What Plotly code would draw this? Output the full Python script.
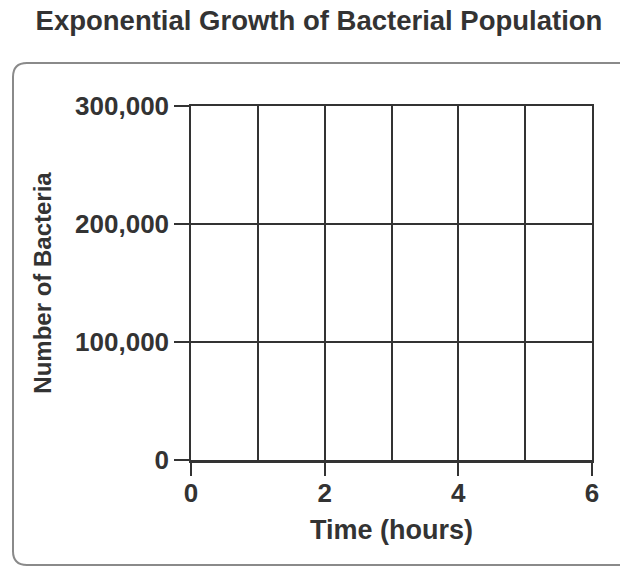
import plotly.graph_objects as go

# ---- data (the reference is an empty grid to be filled in) ----
time_hours = []          # no plotted observations in the reference
bacteria_count = []
x_tick_vals = [0, 2, 4, 6]
x_tick_text = ["0", "2", "4", "6"]
y_tick_vals = [0, 100000, 200000, 300000]
y_tick_text = ["0", "100,000", "200,000", "300,000"]
x_range = [0, 6]
y_range = [0, 300000]

INK = "#333333"
FONT = "Liberation Sans, Arial, Helvetica, sans-serif"

fig = go.Figure()
fig.add_trace(go.Scatter(x=time_hours, y=bacteria_count, mode="lines+markers",
                         line=dict(color=INK), showlegend=False))
# empty trace on the top overlay axis so that it is drawn
fig.add_trace(go.Scatter(x=[], y=[], xaxis="x2", showlegend=False, hoverinfo="skip"))

# rounded frame around the graph (paper coordinates); right side runs off the page
L, R, T, B = -0.4439, 1.25, 1.1215, -0.2966
rx, ry = 0.0349, 0.0395
path = (f"M {L},{T-ry} L {L},{B+ry} Q {L},{B} {L+rx},{B} "
        f"L {R-rx},{B} Q {R},{B} {R},{B+ry} L {R},{T-ry} Q {R},{T} {R-rx},{T} "
        f"L {L+rx},{T} Q {L},{T} {L},{T-ry} Z")
fig.add_shape(type="path", path=path, xref="paper", yref="paper",
              line=dict(color="#8a8a8a", width=2), layer="below")

fig.update_layout(
    width=620, height=568,
    margin=dict(l=191, r=28, t=106, b=108),
    paper_bgcolor="white", plot_bgcolor="white",
    font=dict(family=FONT, color=INK),
    title=dict(text="<b>Exponential Growth of Bacterial Population</b>",
               x=319 / 620, xref="container", xanchor="center",
               y=1 - 20 / 568, yref="container", yanchor="middle",
               font=dict(size=27.5, color=INK, family=FONT)),
    showlegend=False,
)

fig.update_xaxes(
    range=x_range, tickmode="array", tickvals=x_tick_vals, ticktext=x_tick_text,
    ticks="outside", ticklen=13, tickwidth=1.5, tickcolor=INK,
    ticklabelstandoff=-5,
    tickfont=dict(size=26, family=FONT, color=INK, weight="bold"),
    showgrid=True, gridcolor=INK, gridwidth=1.5,
    minor=dict(dtick=1, showgrid=True, gridcolor=INK, gridwidth=1.5, ticks=""),
    showline=True, linecolor=INK, linewidth=3,
    zeroline=False,
    title=dict(text="<b>Time (hours)</b>", font=dict(size=27, family=FONT, color=INK),
               standoff=13),
    fixedrange=True,
)
fig.update_layout(xaxis2=dict(
    range=x_range, overlaying="x", side="top", anchor="y",
    showline=True, linecolor=INK, linewidth=1.5,
    showgrid=False, zeroline=False, showticklabels=False, ticks="",
    fixedrange=True,
))
fig.update_yaxes(
    range=y_range, tickmode="array", tickvals=y_tick_vals, ticktext=y_tick_text,
    ticks="outside", ticklen=15, tickwidth=1.5, tickcolor=INK,
    tickfont=dict(size=26, family=FONT, color=INK, weight="bold"),
    showgrid=True, gridcolor=INK, gridwidth=1.5,
    showline=True, linecolor=INK, linewidth=1.5, mirror=True,
    zeroline=False,
    title=dict(text="<b>Number of Bacteria</b>", font=dict(size=24, family=FONT, color=INK),
               standoff=17),
    fixedrange=True,
)

# remove the page's default 8px body margin so the figure fills the window exactly
fig.write_html("out.html", config={"displayModeBar": False},
               post_script="document.body.style.margin='0';")
